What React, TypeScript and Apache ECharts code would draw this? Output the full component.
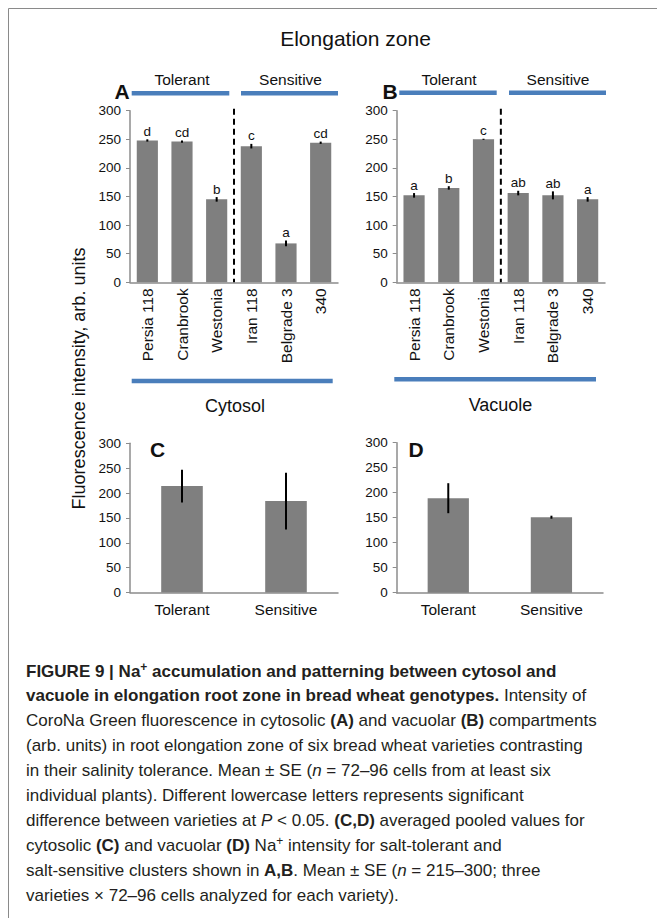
import React, { useEffect, useRef } from 'react';
import * as echarts from 'echarts';

// ---------------- DATA ----------------
const varieties = ['Persia 118', 'Cranbrook', 'Westonia', 'Iran 118', 'Belgrade 3', '340'];
const tolerantCount = 3;
const cytosolMean = [248, 246, 145, 238, 68, 244];
const cytosolSE = [2, 2, 4, 4, 5, 2];
const cytosolLetters = ['d', 'cd', 'b', 'c', 'a', 'cd'];
const vacuoleMean = [152, 165, 250, 156, 152, 145];
const vacuoleSE = [4, 3, 1, 4, 7, 4];
const vacuoleLetters = ['a', 'b', 'c', 'ab', 'ab', 'a'];
const clusters = ['Tolerant', 'Sensitive'];
const cytosolPooledMean = [214, 184];
const cytosolPooledSE = [33, 57];
const vacuolePooledMean = [189, 151];
const vacuolePooledSE = [30, 3];
const yMin = 0;
const yMax = 300;
const yStep = 50;

const title = 'Elongation zone';
const yTitle = 'Fluorescence intensity, arb. units';
const captionLines = [
  '{b|FIGURE 9 | Na}{bs|+}{b| accumulation and patterning between cytosol and}',
  '{b|vacuole in elongation root zone in bread wheat genotypes.}{r| Intensity of}',
  '{r|CoroNa Green fluorescence in cytosolic }{b|(A)}{r| and vacuolar }{b|(B)}{r| compartments}',
  '{r|(arb. units) in root elongation zone of six bread wheat varieties contrasting}',
  '{r|in their salinity tolerance. Mean ± SE (}{i|n}{r| = 72–96 cells from at least six}',
  '{r|individual plants). Different lowercase letters represents significant}',
  '{r|difference between varieties at }{i|P}{r| < 0.05. }{b|(C,D)}{r| averaged pooled values for}',
  '{r|cytosolic }{b|(C)}{r| and vacuolar }{b|(D)}{r| Na}{s|+}{r| intensity for salt-tolerant and}',
  '{r|salt-sensitive clusters shown in }{b|A,B}{r|. Mean ± SE (}{i|n}{r| = 215–300; three}',
  '{r|varieties × 72–96 cells analyzed for each variety).}',
];

// ---------------- STYLE ----------------
const FONT = 'Liberation Sans, Arial, sans-serif';
const CAP_FONT = 'Liberation Sans, Arial, sans-serif';
const BAR = '#7f7f7f';
const AXIS = '#8c8c8c';
const BLUE = '#4a7ebb';
const TXT = '#111';
const CAP_TXT = '#231f20';

const grids = [
  { left: 130, top: 110.7, width: 208, height: 171.6 },
  { left: 396.7, top: 110.7, width: 208.3, height: 171.6 },
  { left: 130, top: 443.3, width: 208, height: 149.3 },
  { left: 396.7, top: 442.7, width: 206.3, height: 150 },
];

function yAxis(i: number) {
  return {
    gridIndex: i,
    type: 'value',
    min: yMin,
    max: yMax,
    interval: yStep,
    axisLine: { show: true, lineStyle: { color: AXIS, width: 1.5 } },
    axisTick: { show: true, length: 4, lineStyle: { color: AXIS, width: 1 } },
    splitLine: { show: false },
    axisLabel: { fontSize: 13.5, color: TXT, margin: 9, fontFamily: FONT },
  };
}

function xAxis(i: number, data: string[], rotate: boolean) {
  return {
    gridIndex: i,
    type: 'category',
    data,
    axisLine: { show: true, lineStyle: { color: AXIS, width: 1.5 } },
    axisTick: { show: false },
    axisLabel: {
      interval: 0,
      rotate: rotate ? 90 : 0,
      fontSize: rotate ? 15.5 : 15.5,
      color: TXT,
      margin: rotate ? 6 : 9,
      fontFamily: FONT,
    },
  };
}

function barSeries(i: number, values: number[], width: string) {
  return {
    type: 'bar',
    xAxisIndex: i,
    yAxisIndex: i,
    data: values,
    barWidth: width,
    itemStyle: { color: BAR },
    silent: true,
  };
}

function errSeries(i: number, means: number[], ses: number[], letters: string[] | null) {
  return {
    type: 'custom',
    xAxisIndex: i,
    yAxisIndex: i,
    data: means.map((m, k) => [k, m, ses[k]]),
    encode: { x: 0, y: 1 },
    silent: true,
    z: 5,
    renderItem: (params: any, api: any) => {
      const x = api.value(0);
      const m = api.value(1);
      const se = api.value(2);
      const top = api.coord([x, m + se]);
      const bot = api.coord([x, m - se]);
      const children: any[] = [
        {
          type: 'line',
          shape: { x1: top[0], y1: top[1], x2: bot[0], y2: bot[1] },
          style: { stroke: '#000', lineWidth: 2 },
        },
      ];
      if (letters) {
        children.push({
          type: 'text',
          x: top[0],
          y: top[1] - 1,
          style: {
            text: letters[params.dataIndex],
            fontSize: 13.5,
            fontFamily: FONT,
            fill: TXT,
            align: 'center',
            verticalAlign: 'bottom',
          },
        });
      }
      return { type: 'group', children };
    },
  };
}

function dividerSeries(i: number) {
  return {
    type: 'custom',
    xAxisIndex: i,
    yAxisIndex: i,
    data: [[tolerantCount - 1, yMax]],
    silent: true,
    z: 6,
    renderItem: (params: any, api: any) => {
      const a = api.coord([tolerantCount - 1, yMax]);
      const b = api.coord([tolerantCount, yMin]);
      const x = (a[0] + b[0]) / 2;
      return {
        type: 'line',
        shape: { x1: x, y1: a[1] - 2, x2: x, y2: b[1] },
        style: { stroke: '#000', lineWidth: 2, lineDash: [6, 4] },
      };
    },
  };
}

function txt(text: string, x: number, y: number, size: number, opts: any = {}) {
  return {
    type: 'text',
    x,
    y,
    rotation: opts.rotation || 0,
    style: {
      text,
      fontSize: size,
      fontFamily: FONT,
      fontWeight: opts.bold ? 'bold' : 'normal',
      fill: TXT,
      align: 'center',
      verticalAlign: 'middle',
    },
  };
}

function hline(x1: number, x2: number, y: number) {
  return {
    type: 'line',
    shape: { x1, y1: y, x2, y2: y },
    style: { stroke: BLUE, lineWidth: 4.5 },
  };
}

export default function App() {
  const ref = useRef<HTMLDivElement>(null);
  useEffect(() => {
    document.body.style.margin = '0';
    if (!ref.current) return;
    const chart = echarts.init(ref.current, null, { renderer: 'svg' });

    const CS = 17;
    const capStyles = {
      r: { fontSize: CS, fontFamily: CAP_FONT, fontWeight: 'normal', fill: CAP_TXT, lineHeight: 20 },
      b: { fontSize: CS, fontFamily: CAP_FONT, fontWeight: 'bold', fill: CAP_TXT, lineHeight: 20 },
      i: { fontSize: CS, fontFamily: CAP_FONT, fontWeight: 'normal', fontStyle: 'italic', fill: CAP_TXT, lineHeight: 20 },
      s: { fontSize: 12, fontFamily: CAP_FONT, fontWeight: 'normal', fill: CAP_TXT, lineHeight: 13, verticalAlign: 'top' },
      bs: { fontSize: 12, fontFamily: CAP_FONT, fontWeight: 'bold', fill: CAP_TXT, lineHeight: 13, verticalAlign: 'top' },
    };

    const caption = captionLines.map((line, k) => ({
      type: 'text',
      x: 26,
      y: 671 + k * 24.9,
      style: {
        text: line,
        rich: capStyles,
        align: 'left',
        verticalAlign: 'middle',
        fill: CAP_TXT,
        fontSize: CS,
        fontFamily: CAP_FONT,
      },
    }));

    const graphic: any[] = [
      { type: 'line', shape: { x1: 8.5, y1: 8.5, x2: 8.5, y2: 918 }, style: { stroke: '#8a8a8a', lineWidth: 1 } },
      { type: 'line', shape: { x1: 8.5, y1: 8.5, x2: 657, y2: 8.5 }, style: { stroke: '#8a8a8a', lineWidth: 1 } },
      txt(title, 355.5, 38, 21),
      txt(yTitle, 79, 378.5, 18, { rotation: Math.PI / 2 }),
      // panel A
      txt('A', 122, 91, 21, { bold: true }),
      txt(clusters[0], 182, 79, 15.5),
      txt(clusters[1], 290.5, 79, 15.5),
      hline(131.7, 229.3, 93.3),
      hline(241, 338, 93.3),
      hline(131.7, 332.7, 381),
      txt('Cytosol', 235, 406, 18),
      // panel B
      txt('B', 390, 91, 21, { bold: true }),
      txt(clusters[0], 449, 79, 15.5),
      txt(clusters[1], 558, 79, 15.5),
      hline(399.3, 496.7, 92.7),
      hline(509, 606, 92.7),
      hline(394.3, 596, 379.3),
      txt('Vacuole', 500.5, 405, 18),
      // panel C, D
      txt('C', 157.5, 449, 21, { bold: true }),
      txt('D', 416, 449, 21, { bold: true }),
      ...caption,
    ];

    chart.setOption({
      animation: false,
      backgroundColor: '#fff',
      grid: grids.map((g) => ({ ...g, containLabel: false, outerBoundsMode: 'none' })),
      xAxis: [
        xAxis(0, varieties, true),
        xAxis(1, varieties, true),
        xAxis(2, clusters, false),
        xAxis(3, clusters, false),
      ],
      yAxis: [yAxis(0), yAxis(1), yAxis(2), yAxis(3)],
      series: [
        barSeries(0, cytosolMean, '61%'),
        errSeries(0, cytosolMean, cytosolSE, cytosolLetters),
        dividerSeries(0),
        barSeries(1, vacuoleMean, '61%'),
        errSeries(1, vacuoleMean, vacuoleSE, vacuoleLetters),
        dividerSeries(1),
        barSeries(2, cytosolPooledMean, '40%'),
        errSeries(2, cytosolPooledMean, cytosolPooledSE, null),
        barSeries(3, vacuolePooledMean, '40%'),
        errSeries(3, vacuolePooledMean, vacuolePooledSE, null),
      ],
      graphic,
    });
    return () => chart.dispose();
  }, []);
  return <div ref={ref} style={{ width: 657, height: 918 }} />;
}
